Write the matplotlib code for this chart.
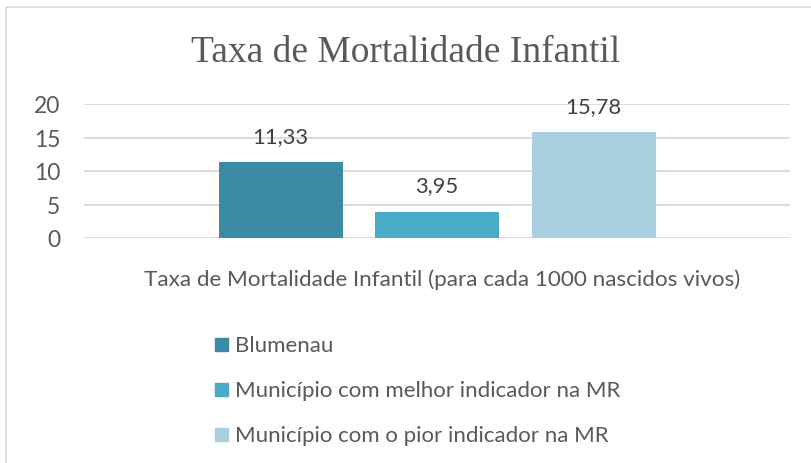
import matplotlib.pyplot as plt
from matplotlib.patches import Rectangle

# dados
categoria = "Taxa de Mortalidade Infantil (para cada 1000 nascidos vivos)"
series = ["Blumenau",
          "Município com melhor indicador na MR",
          "Município com o pior indicador na MR"]
valores = [11.33, 3.95, 15.78]
rotulos = ["11,33", "3,95", "15,78"]
cores = ["#3C8AA3", "#4AABC6", "#AACFDE"]
yticks = [0, 5, 10, 15, 20]

W, H = 811, 464
fig = plt.figure(figsize=(W / 100, H / 100), dpi=100)

# moldura do gráfico
fig.patches.append(Rectangle((6 / W, -0.05), 1.0, 1 - 8 / H + 0.05,
                             transform=fig.transFigure, fill=False,
                             edgecolor="#D9D9D9", linewidth=1.2))

ax = fig.add_axes([84 / W, (H - 239) / H, (790 - 84) / W, 134 / H])

fonte = "Lato"
cinza = "#595959"

pos = [-1, 0, 1]
largura = 124 / 156.5
barras = ax.bar(pos, valores, width=largura, color=cores, zorder=2)

for b, r in zip(barras, rotulos):
    ax.annotate(r, (b.get_x() + b.get_width() / 2, b.get_height()),
                xytext=(0, 19), textcoords="offset points",
                ha="center", va="center", fontsize=15.8,
                color="#404040", family=fonte)

ax.set_xlim(-353 / 156.5, 353 / 156.5)
ax.set_ylim(0, 20)
ax.set_yticks(yticks)
ax.set_yticklabels([str(t) for t in yticks], family=fonte,
                   fontsize=16.5, color=cinza)
ax.tick_params(axis="y", length=0, pad=17)
ax.set_xticks([])
ax.yaxis.grid(True, color="#D9D9D9", linewidth=1.3, zorder=0)
for s in ax.spines.values():
    s.set_visible(False)

fig.text(0.5, 1 - 53 / H, "Taxa de Mortalidade Infantil", ha="center",
         va="center", family="Liberation Serif", fontsize=27, color=cinza)

fig.text(442 / W, 1 - 280 / H, categoria, ha="center", va="center",
         family=fonte, fontsize=16.2, color=cinza)

# legenda
legenda_y = [346, 391, 436]
for nome, cor, y in zip(series, cores, legenda_y):
    fig.patches.append(Rectangle((215 / W, 1 - (y + 6) / H), 13 / W, 13 / H,
                                 transform=fig.transFigure, color=cor))
    fig.text(235 / W, 1 - y / H, nome, ha="left", va="center",
             family=fonte, fontsize=16, color=cinza)

fig.savefig("out.png", dpi=100)
